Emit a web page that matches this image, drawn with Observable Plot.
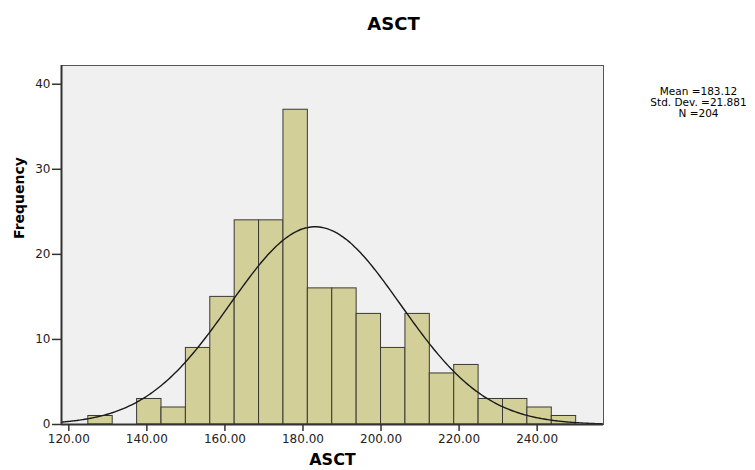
<!DOCTYPE html>
<html>
<head>
<meta charset="utf-8">
<script src="https://cdn.jsdelivr.net/npm/d3@7"></script>
<script src="https://cdn.jsdelivr.net/npm/@observablehq/plot@0.6"></script>
<style>
  html, body { margin: 0; padding: 0; background: #ffffff; }
</style>
</head>
<body>
<div id="chart"></div>
<script>
// Histogram bins (lower and upper edges) and frequencies
const binLower = [125, 131.25, 137.5, 143.75, 150, 156.25, 162.5, 168.75, 175, 181.25,
                  187.5, 193.75, 200, 206.25, 212.5, 218.75, 225, 231.25, 237.5, 243.75];
const binUpper = [131.25, 137.5, 143.75, 150, 156.25, 162.5, 168.75, 175, 181.25, 187.5,
                  193.75, 200, 206.25, 212.5, 218.75, 225, 231.25, 237.5, 243.75, 250];
const counts   = [1, 0, 3, 2, 9, 15, 24, 24, 37, 16, 16, 13, 9, 13, 6, 7, 3, 3, 2, 1];

// Summary statistics shown in the chart
const meanVal = 183.12;
const sdVal = 21.881;
const nVal = 204;

const xTicks = [120, 140, 160, 180, 200, 220, 240];
const yTicks = [0, 10, 20, 30, 40];
const statsLines = ["Mean =183.12", "Std. Dev. =21.881", "N =204"];

const bars = binLower.map((lo, i) => ({lo, hi: binUpper[i], count: counts[i]})).filter(d => d.count > 0);

// Fitted normal curve scaled to the histogram (N * bin width * density)
const binWidth = binUpper[0] - binLower[0];
const xMin = 118.13, xMax = 257.0;
const curve = d3.range(xMin, xMax + 0.01, 0.5).map(x => ({
  x,
  y: nVal * binWidth * Math.exp(-0.5 * ((x - meanVal) / sdVal) ** 2) / (sdVal * Math.sqrt(2 * Math.PI))
}));

const chart = Plot.plot({
  width: 755,
  height: 470,
  marginLeft: 61,
  marginRight: 152,
  marginTop: 65,
  marginBottom: 46,
  style: {fontFamily: "'DejaVu Sans', sans-serif", fontSize: "12px", background: "#ffffff", color: "#222"},
  x: {domain: [xMin, xMax]},
  y: {domain: [0, 42.2]},
  marks: [
    Plot.frame({fill: "#f0f0f0", stroke: "#555", strokeWidth: 1}),
    Plot.rect(bars, {x1: "lo", x2: "hi", y1: 0, y2: "count", fill: "#d3cf98", stroke: "#3a3a36", strokeWidth: 1}),
    Plot.line(curve, {x: "x", y: "y", stroke: "#1a1a1a", strokeWidth: 1.4, curve: "basis"}),
    Plot.ruleX([xMin], {stroke: "#333", strokeWidth: 2}),
    Plot.ruleY([0], {stroke: "#333", strokeWidth: 2}),
    Plot.axisX({ticks: xTicks, tickFormat: d => d.toFixed(2), tickSize: 7, tickPadding: 3, label: null, stroke: "#333", strokeWidth: 1.5}),
    Plot.axisY({ticks: yTicks, tickFormat: d => String(d), tickSize: 9, tickPadding: 2, label: null, stroke: "#333", strokeWidth: 1.5}),
    Plot.text(["ASCT"], {frameAnchor: "top", dx: 61, dy: -41, lineAnchor: "middle", fontWeight: "bold", fontSize: 18, fill: "#000"}),
    Plot.text(["ASCT"], {frameAnchor: "bottom", dx: 0, dy: 35, lineAnchor: "middle", fontWeight: "bold", fontSize: 16, fill: "#000"}),
    Plot.text(["Frequency"], {frameAnchor: "left", dx: -42, dy: -6, rotate: -90, lineAnchor: "middle", fontWeight: "bold", fontSize: 14, fill: "#000"}),
    Plot.text([statsLines.join("\n")], {frameAnchor: "top-right", dx: 95, dy: 21, textAnchor: "middle", lineAnchor: "top", lineHeight: 1.08, fontSize: 10.5, fill: "#000"})
  ]
});
document.getElementById("chart").appendChild(chart);
</script>
</body>
</html>
